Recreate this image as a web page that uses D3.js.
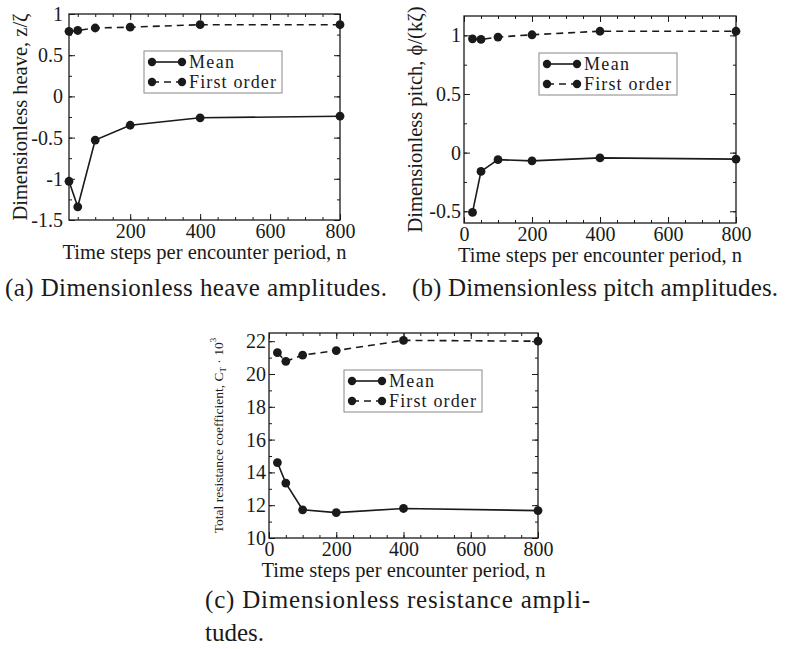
<!DOCTYPE html>
<html>
<head>
<meta charset="utf-8">
<script src="https://cdn.jsdelivr.net/npm/d3@7"></script>
<style>
body { margin: 0; background: #fff; }
svg text { font-family: "Liberation Serif", "Times New Roman", serif; fill: #1a1a1a; }
</style>
</head>
<body>
<div id="chart"></div>
<script>
// time steps per encounter period
var nSteps = [25, 50, 100, 200, 400, 800];
// (a) heave
var heaveMean = [-1.03, -1.34, -0.53, -0.35, -0.26, -0.24];
var heaveFirst = [0.79, 0.80, 0.83, 0.84, 0.87, 0.87];
// (b) pitch
var pitchMean = [-0.51, -0.16, -0.06, -0.07, -0.045, -0.055];
var pitchFirst = [0.97, 0.965, 0.985, 1.005, 1.035, 1.035];
// (c) resistance
var resMean = [14.6, 13.35, 11.72, 11.55, 11.8, 11.67];
var resFirst = [21.3, 20.77, 21.15, 21.43, 22.05, 22.0];

var seriesNames = ["Mean", "First order"];

var W = 787, H = 649;
var svg = d3.select("#chart").append("svg")
    .attr("width", W)
    .attr("height", H);

var ink = "#1a1a1a";
var serif = "Liberation Serif, Times New Roman, serif";

var panels = [
  {left: 69, top: 14, width: 271, height: 206,
   xDomain: [25, 800], xLabels: [200, 400, 600, 800], xMinor: d3.range(50, 801, 50),
   yDomain: [-1.5, 1], yLabels: [-1.5, -1, -0.5, 0, 0.5, 1], yMinor: d3.range(-1.5, 1.01, 0.25),
   ylabPad: 6, mean: heaveMean, first: heaveFirst,
   yTitle: "Dimensionless heave, z/ζ", yTitleOff: 42},
  {left: 464, top: 16, width: 272, height: 207,
   xDomain: [0, 800], xLabels: [0, 200, 400, 600, 800], xMinor: d3.range(0, 801, 50),
   yDomain: [-0.6, 1.165], yLabels: [-0.5, 0, 0.5, 1], yMinor: d3.range(-0.5, 1.01, 0.25),
   ylabPad: 3, mean: pitchMean, first: pitchFirst,
   yTitle: "Dimensionless pitch, ϕ/(kζ)", yTitleOff: 42},
  {left: 269, top: 333, width: 269, height: 205,
   xDomain: [0, 800], xLabels: [0, 200, 400, 600, 800], xMinor: d3.range(0, 801, 50),
   yDomain: [10, 22.5], yLabels: [10, 12, 14, 16, 18, 20, 22], yMinor: d3.range(10, 22.5, 1),
   ylabPad: 3, mean: resMean, first: resFirst,
   yTitle: null, yTitleOff: 46}
];

panels.forEach(function(p) {
  var x = d3.scaleLinear().domain(p.xDomain).range([0, p.width]);
  var y = d3.scaleLinear().domain(p.yDomain).range([p.height, 0]);
  var g = svg.append("g").attr("transform", "translate(" + p.left + "," + p.top + ")");

  var fmt = function(d) { return String(d); };

  // minor ticks on all four sides, pointing in
  g.append("g").attr("transform", "translate(0," + p.height + ")")
    .call(d3.axisBottom(x).tickValues(p.xMinor).tickSize(-3).tickFormat(""));
  g.append("g")
    .call(d3.axisTop(x).tickValues(p.xMinor).tickSize(-3).tickFormat(""));
  g.append("g")
    .call(d3.axisLeft(y).tickValues(p.yMinor).tickSize(-3).tickFormat(""));
  g.append("g").attr("transform", "translate(" + p.width + ",0)")
    .call(d3.axisRight(y).tickValues(p.yMinor).tickSize(-3).tickFormat(""));

  // major ticks with labels
  g.append("g").attr("transform", "translate(0," + p.height + ")")
    .call(d3.axisBottom(x).tickValues(p.xLabels).tickSize(-6).tickPadding(4).tickFormat(fmt));
  g.append("g")
    .call(d3.axisTop(x).tickValues(p.xLabels).tickSize(-6).tickFormat(""));
  g.append("g")
    .call(d3.axisLeft(y).tickValues(p.yLabels).tickSize(-6).tickPadding(p.ylabPad).tickFormat(fmt));
  g.append("g").attr("transform", "translate(" + p.width + ",0)")
    .call(d3.axisRight(y).tickValues(p.yLabels).tickSize(-6).tickFormat(""));

  g.selectAll(".domain").remove();
  g.selectAll(".tick line").attr("stroke", ink).attr("stroke-width", 1);
  g.selectAll(".tick text").attr("font-size", "20px")
    .attr("font-family", serif).attr("fill", ink);

  // frame
  g.append("rect")
    .attr("width", p.width).attr("height", p.height)
    .attr("fill", "none").attr("stroke", ink).attr("stroke-width", 1.3);

  // series
  var line = d3.line()
    .x(function(d, i) { return x(nSteps[i]); })
    .y(function(d) { return y(d); });

  [p.mean, p.first].forEach(function(vals, k) {
    g.append("path")
      .datum(vals)
      .attr("d", line)
      .attr("fill", "none")
      .attr("stroke", ink)
      .attr("stroke-width", 1.6)
      .attr("stroke-dasharray", k == 1 ? "7,5" : null);
    g.selectAll(".dot" + k)
      .data(vals)
      .enter().append("circle")
      .attr("cx", function(d, i) { return x(nSteps[i]); })
      .attr("cy", function(d) { return y(d); })
      .attr("r", 4.4)
      .attr("fill", ink);
  });

  // legend
  var lg = g.append("g").attr("transform", "translate(75,37)");
  lg.append("rect")
    .attr("width", 138).attr("height", 42)
    .attr("fill", "#fff").attr("stroke", "#888").attr("stroke-width", 1);
  seriesNames.forEach(function(name, k) {
    var ry = 11 + k * 20;
    lg.append("line")
      .attr("x1", 8).attr("x2", 38).attr("y1", ry).attr("y2", ry)
      .attr("stroke", ink).attr("stroke-width", 1.6)
      .attr("stroke-dasharray", k == 1 ? "7,5" : null);
    lg.selectAll(".ld" + k).data([8, 38]).enter().append("circle")
      .attr("cx", function(d) { return d; }).attr("cy", ry).attr("r", 4.2).attr("fill", ink);
    lg.append("text")
      .attr("x", 45).attr("y", ry + 6)
      .attr("font-family", serif)
      .attr("font-size", "18px")
      .attr("textLength", name.length > 4 ? 87 : 45)
      .attr("lengthAdjust", "spacing")
      .text(name);
  });

  // x title
  g.append("text")
    .attr("x", p.width / 2).attr("y", p.height + 39)
    .attr("text-anchor", "middle")
    .attr("font-family", serif)
    .attr("font-size", "20.5px")
    .text("Time steps per encounter period, n");

  // y title
  var yt = g.append("text")
    .attr("transform", "translate(" + (-p.yTitleOff) + "," + (p.height / 2) + ") rotate(-90)")
    .attr("font-family", serif)
    .attr("text-anchor", "middle");
  if (p.yTitle) {
    yt.attr("font-size", "20.5px").text(p.yTitle);
  } else {
    yt.attr("font-size", "13.5px");
    yt.append("tspan").text("Total resistance coefficient, C");
    yt.append("tspan").attr("font-size", "9px").attr("dy", 3).text("T");
    yt.append("tspan").attr("dy", -3).text(" \u00b7 10");
    yt.append("tspan").attr("font-size", "9px").attr("dy", -7).text("3");
  }
});

// sub-figure captions
var captions = [
  {lines: ["(a) Dimensionless heave amplitudes."], x: 5, y: 296, len: [382]},
  {lines: ["(b) Dimensionless pitch amplitudes."], x: 412, y: 296, len: [366]},
  {lines: ["(c) Dimensionless resistance ampli-", "tudes."], x: 205, y: 608, len: [385, null]}
];
captions.forEach(function(c) {
  c.lines.forEach(function(t, i) {
    var el = svg.append("text")
      .attr("x", c.x).attr("y", c.y + i * 33)
      .attr("font-family", serif)
      .attr("font-size", "25px")
      .attr("fill", "#222")
      .text(t);
    if (c.len[i]) el.attr("textLength", c.len[i]).attr("lengthAdjust", "spacing");
  });
});
</script>
</body>
</html>
